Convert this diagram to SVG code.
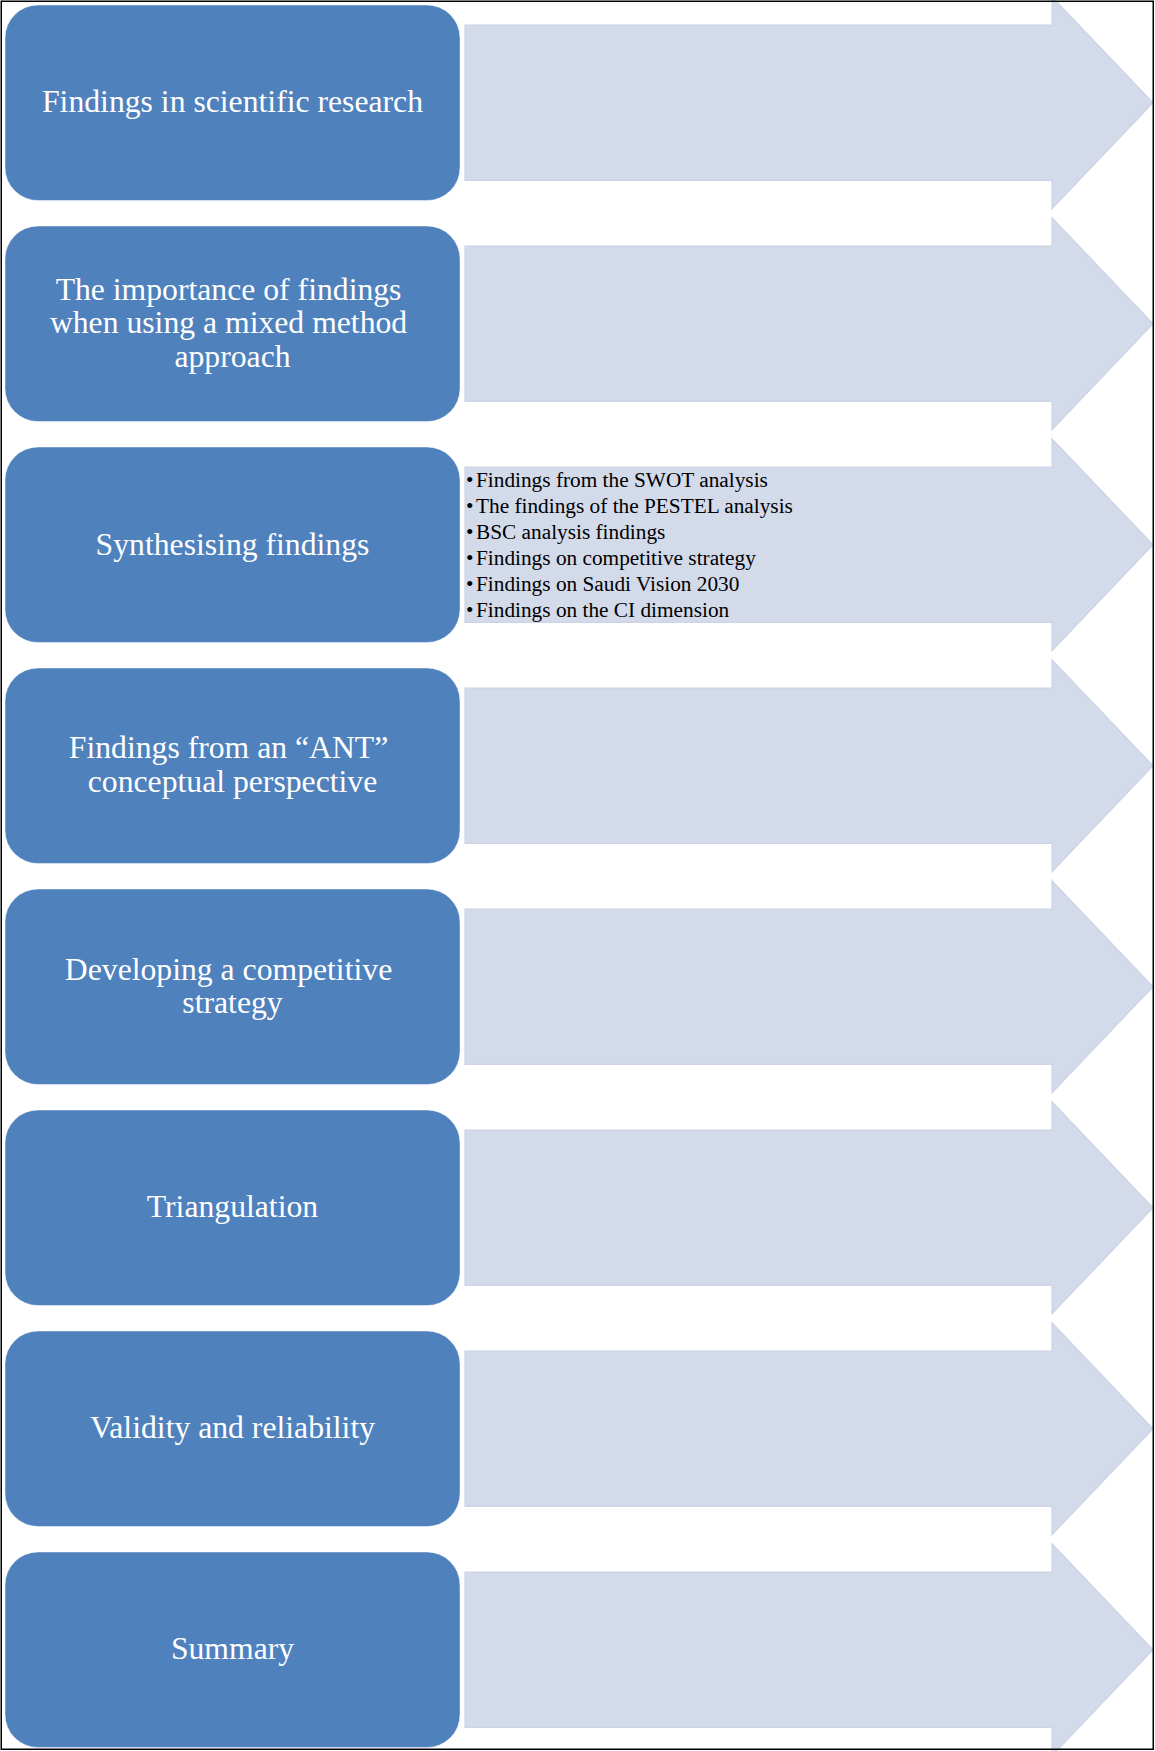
<svg xmlns="http://www.w3.org/2000/svg" width="1155" height="1751" viewBox="0 0 1155 1751">
  <style>
    .box { fill: #4F81BD; stroke: #FFFFFF; stroke-opacity: 0.45; stroke-width: 1; }
    .arrow { fill: #D3DAEA; stroke: #CCD4E6; stroke-width: 1.2; }
    .label { font-family: "Liberation Serif", "Times New Roman", serif; font-size: 31.7px; fill: #FFFFFF; text-anchor: middle; }
    .bullets { font-family: "Liberation Serif", "Times New Roman", serif; font-size: 21.3px; fill: #000000; }
  </style>
  <defs>
    <!-- one block arrow, centred vertically on y=0 -->
    <path id="blockArrow" class="arrow" d="M465,-77.7 H1052 V-106 L1153,0 L1052,106 V77.7 H465 Z"/>
    <rect id="roundBox" class="box" x="5" y="-97.75" width="455" height="195.5" rx="33" ry="33"/>
  </defs>

  <rect x="0" y="0" width="1155" height="1751" fill="#FFFFFF"/>

  <!-- arrows pointing right from each stage -->
  <g id="connectors">
    <use href="#blockArrow" transform="translate(0,102.75)"/>
    <use href="#blockArrow" transform="translate(0,323.75)"/>
    <use href="#blockArrow" transform="translate(0,544.75)"/>
    <use href="#blockArrow" transform="translate(0,765.75)"/>
    <use href="#blockArrow" transform="translate(0,986.75)"/>
    <use href="#blockArrow" transform="translate(0,1207.75)"/>
    <use href="#blockArrow" transform="translate(0,1428.75)"/>
    <use href="#blockArrow" transform="translate(0,1649.75)"/>
  </g>

  <g id="stage1" transform="translate(0,102.75)">
    <use href="#roundBox"/>
    <text class="label" x="232.5" y="9.6">Findings in scientific research</text>
  </g>

  <g id="stage2" transform="translate(0,323.75)">
    <use href="#roundBox"/>
    <text class="label" x="232.5">
      <tspan x="232.5" y="-23.7">The importance of findings</tspan>
      <tspan x="232.5" y="9.6">when using a mixed method</tspan>
      <tspan x="232.5" y="42.9">approach</tspan>
    </text>
  </g>

  <g id="stage3" transform="translate(0,544.75)">
    <use href="#roundBox"/>
    <text class="label" x="232.5" y="9.8">Synthesising findings</text>
    <text class="bullets">
      <tspan x="466" y="-57.5">•</tspan><tspan x="476" y="-57.5">Findings from the SWOT analysis</tspan>
      <tspan x="466" y="-31.6">•</tspan><tspan x="476" y="-31.6">The findings of the PESTEL analysis</tspan>
      <tspan x="466" y="-5.7">•</tspan><tspan x="476" y="-5.7">BSC analysis findings</tspan>
      <tspan x="466" y="20.2">•</tspan><tspan x="476" y="20.2">Findings on competitive strategy</tspan>
      <tspan x="466" y="46.1">•</tspan><tspan x="476" y="46.1">Findings on Saudi Vision 2030</tspan>
      <tspan x="466" y="72">•</tspan><tspan x="476" y="72">Findings on the CI dimension</tspan>
    </text>
  </g>

  <g id="stage4" transform="translate(0,765.75)">
    <use href="#roundBox"/>
    <text class="label" x="232.5">
      <tspan x="232.5" y="-7.3">Findings from an “ANT”</tspan>
      <tspan x="232.5" y="26">conceptual perspective</tspan>
    </text>
  </g>

  <g id="stage5" transform="translate(0,986.75)">
    <use href="#roundBox"/>
    <text class="label" x="232.5">
      <tspan x="232.5" y="-6.8">Developing a competitive</tspan>
      <tspan x="232.5" y="26.5">strategy</tspan>
    </text>
  </g>

  <g id="stage6" transform="translate(0,1207.75)">
    <use href="#roundBox"/>
    <text class="label" x="232.5" y="9.6">Triangulation</text>
  </g>

  <g id="stage7" transform="translate(0,1428.75)">
    <use href="#roundBox"/>
    <text class="label" x="232.5" y="9.6">Validity and reliability</text>
  </g>

  <g id="stage8" transform="translate(0,1649.75)">
    <use href="#roundBox"/>
    <text class="label" x="232.5" y="9.6">Summary</text>
  </g>

  <!-- page frame -->
  <rect x="1.25" y="1.25" width="1152" height="1748" fill="none" stroke="#000000" stroke-width="1.5"/>
</svg>
